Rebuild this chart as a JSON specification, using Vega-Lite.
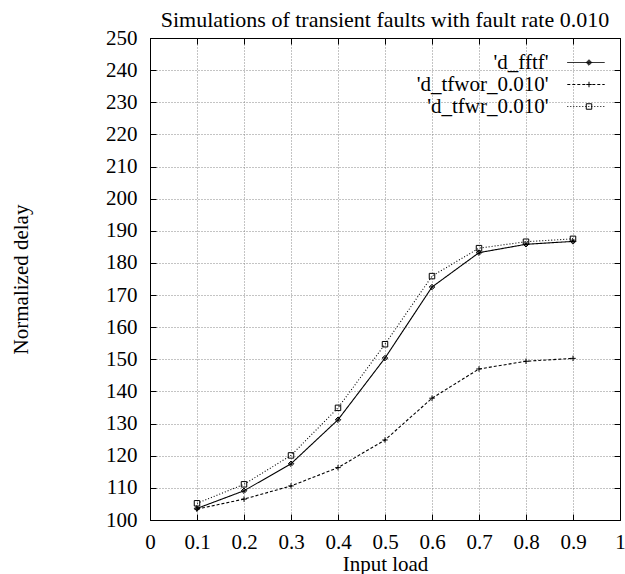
{
  "$schema": "https://vega.github.io/schema/vega-lite/v6.json",
  "autosize": "none",
  "padding": {"left": 150, "top": 38, "right": 5, "bottom": 54},
  "width": 470,
  "height": 482,
  "background": "white",
  "title": {"text": "Simulations of transient faults with fault rate 0.010", "font": "Liberation Serif", "fontSize": 22, "fontWeight": "normal", "color": "black", "anchor": "middle", "offset": -5},
  "config": {
    "font": "Liberation Serif",
    "view": {"stroke": "black", "strokeWidth": 1},
    "axis": {"labelFont": "Liberation Serif", "labelFontSize": 21, "labelColor": "black", "titleFont": "Liberation Serif", "titleFontSize": 21, "titleFontWeight": "normal", "titleColor": "black", "domainColor": "black", "tickColor": "black", "tickSize": -6, "gridColor": "#888", "gridDash": [1, 2], "gridWidth": 1, "gridOpacity": 1},
    "legend": {"labelFont": "Liberation Serif", "labelFontSize": 21, "labelColor": "black", "padding": 0, "rowPadding": 0}
  },
  "data": {"values": [
    {"x": 0.1, "y": 103.6, "s": "'d_fftf'"},
    {"x": 0.2, "y": 109.1, "s": "'d_fftf'"},
    {"x": 0.3, "y": 117.5, "s": "'d_fftf'"},
    {"x": 0.4, "y": 131.2, "s": "'d_fftf'"},
    {"x": 0.5, "y": 150.4, "s": "'d_fftf'"},
    {"x": 0.6, "y": 172.5, "s": "'d_fftf'"},
    {"x": 0.7, "y": 183.2, "s": "'d_fftf'"},
    {"x": 0.8, "y": 185.8, "s": "'d_fftf'"},
    {"x": 0.9, "y": 186.7, "s": "'d_fftf'"},
    {"x": 0.1, "y": 103.4, "s": "'d_tfwor_0.010'"},
    {"x": 0.2, "y": 106.5, "s": "'d_tfwor_0.010'"},
    {"x": 0.3, "y": 110.6, "s": "'d_tfwor_0.010'"},
    {"x": 0.4, "y": 116.3, "s": "'d_tfwor_0.010'"},
    {"x": 0.5, "y": 124.9, "s": "'d_tfwor_0.010'"},
    {"x": 0.6, "y": 137.9, "s": "'d_tfwor_0.010'"},
    {"x": 0.7, "y": 147.0, "s": "'d_tfwor_0.010'"},
    {"x": 0.8, "y": 149.4, "s": "'d_tfwor_0.010'"},
    {"x": 0.9, "y": 150.3, "s": "'d_tfwor_0.010'"},
    {"x": 0.1, "y": 105.2, "s": "'d_tfwr_0.010'"},
    {"x": 0.2, "y": 111.1, "s": "'d_tfwr_0.010'"},
    {"x": 0.3, "y": 120.1, "s": "'d_tfwr_0.010'"},
    {"x": 0.4, "y": 134.9, "s": "'d_tfwr_0.010'"},
    {"x": 0.5, "y": 154.7, "s": "'d_tfwr_0.010'"},
    {"x": 0.6, "y": 175.9, "s": "'d_tfwr_0.010'"},
    {"x": 0.7, "y": 184.6, "s": "'d_tfwr_0.010'"},
    {"x": 0.8, "y": 186.6, "s": "'d_tfwr_0.010'"},
    {"x": 0.9, "y": 187.5, "s": "'d_tfwr_0.010'"}
  ]},
  "resolve": {"axis": {"x": "independent", "y": "independent"}},
  "layer": [
    {
      "mark": {"type": "line", "color": "black", "strokeWidth": 1.1},
      "encoding": {
        "x": {"field": "x", "type": "quantitative", "scale": {"domain": [0, 1], "nice": false},
              "axis": {"title": "Input load", "values": [0, 0.1, 0.2, 0.3, 0.4, 0.5, 0.6, 0.7, 0.8, 0.9, 1], "format": ".1~f", "grid": true, "labelPadding": 17, "titlePadding": 1, "labelFlush": false}},
        "y": {"field": "y", "type": "quantitative", "scale": {"domain": [100, 250], "nice": false, "zero": false},
              "axis": {"title": "Normalized delay", "values": [100, 110, 120, 130, 140, 150, 160, 170, 180, 190, 200, 210, 220, 230, 240, 250], "grid": true, "labelPadding": 19, "titlePadding": 74}},
        "strokeDash": {"field": "s", "type": "nominal",
              "scale": {"domain": ["'d_fftf'", "'d_tfwor_0.010'", "'d_tfwr_0.010'"], "range": [[1, 0], [3, 2], [1, 2]]},
              "legend": {"title": null, "orient": "none", "legendX": 425.5, "legendY": 14, "symbolType": "M-3.4,0H3.4", "symbolSize": 121, "symbolStrokeColor": "black", "symbolStrokeWidth": 1, "labelAlign": "right", "labelOffset": -48, "labelLimit": 300}}
      }
    },
    {
      "mark": {"type": "point", "stroke": "black", "strokeWidth": 1, "opacity": 1, "size": 30, "filled": false},
      "encoding": {
        "x": {"field": "x", "type": "quantitative", "axis": {"orient": "top", "title": null, "labels": false, "grid": false, "values": [0, 0.1, 0.2, 0.3, 0.4, 0.5, 0.6, 0.7, 0.8, 0.9, 1]}},
        "y": {"field": "y", "type": "quantitative", "axis": {"orient": "right", "title": null, "labels": false, "grid": false, "values": [100, 110, 120, 130, 140, 150, 160, 170, 180, 190, 200, 210, 220, 230, 240, 250]}},
        "shape": {"field": "s", "type": "nominal",
              "scale": {"domain": ["'d_fftf'", "'d_tfwor_0.010'", "'d_tfwr_0.010'", "none"], "range": ["M0,-1L1,0L0,1L-1,0ZM0,-0.5L0.5,0L0,0.5L-0.5,0ZM-0.2,0H0.2", "M-1,0H1M0,-1V1", "square", "circle"]},
              "legend": {"title": null, "orient": "none", "legendX": 428.5, "legendY": 14, "values": ["'d_fftf'", "'d_tfwor_0.010'", "'d_tfwr_0.010'"], "symbolSize": 30, "symbolStrokeColor": "black", "symbolFillColor": "white", "symbolStrokeWidth": 1, "labelExpr": "' '", "labelOffset": 2, "labelLimit": 300}}
      }
    }
  ]
}
